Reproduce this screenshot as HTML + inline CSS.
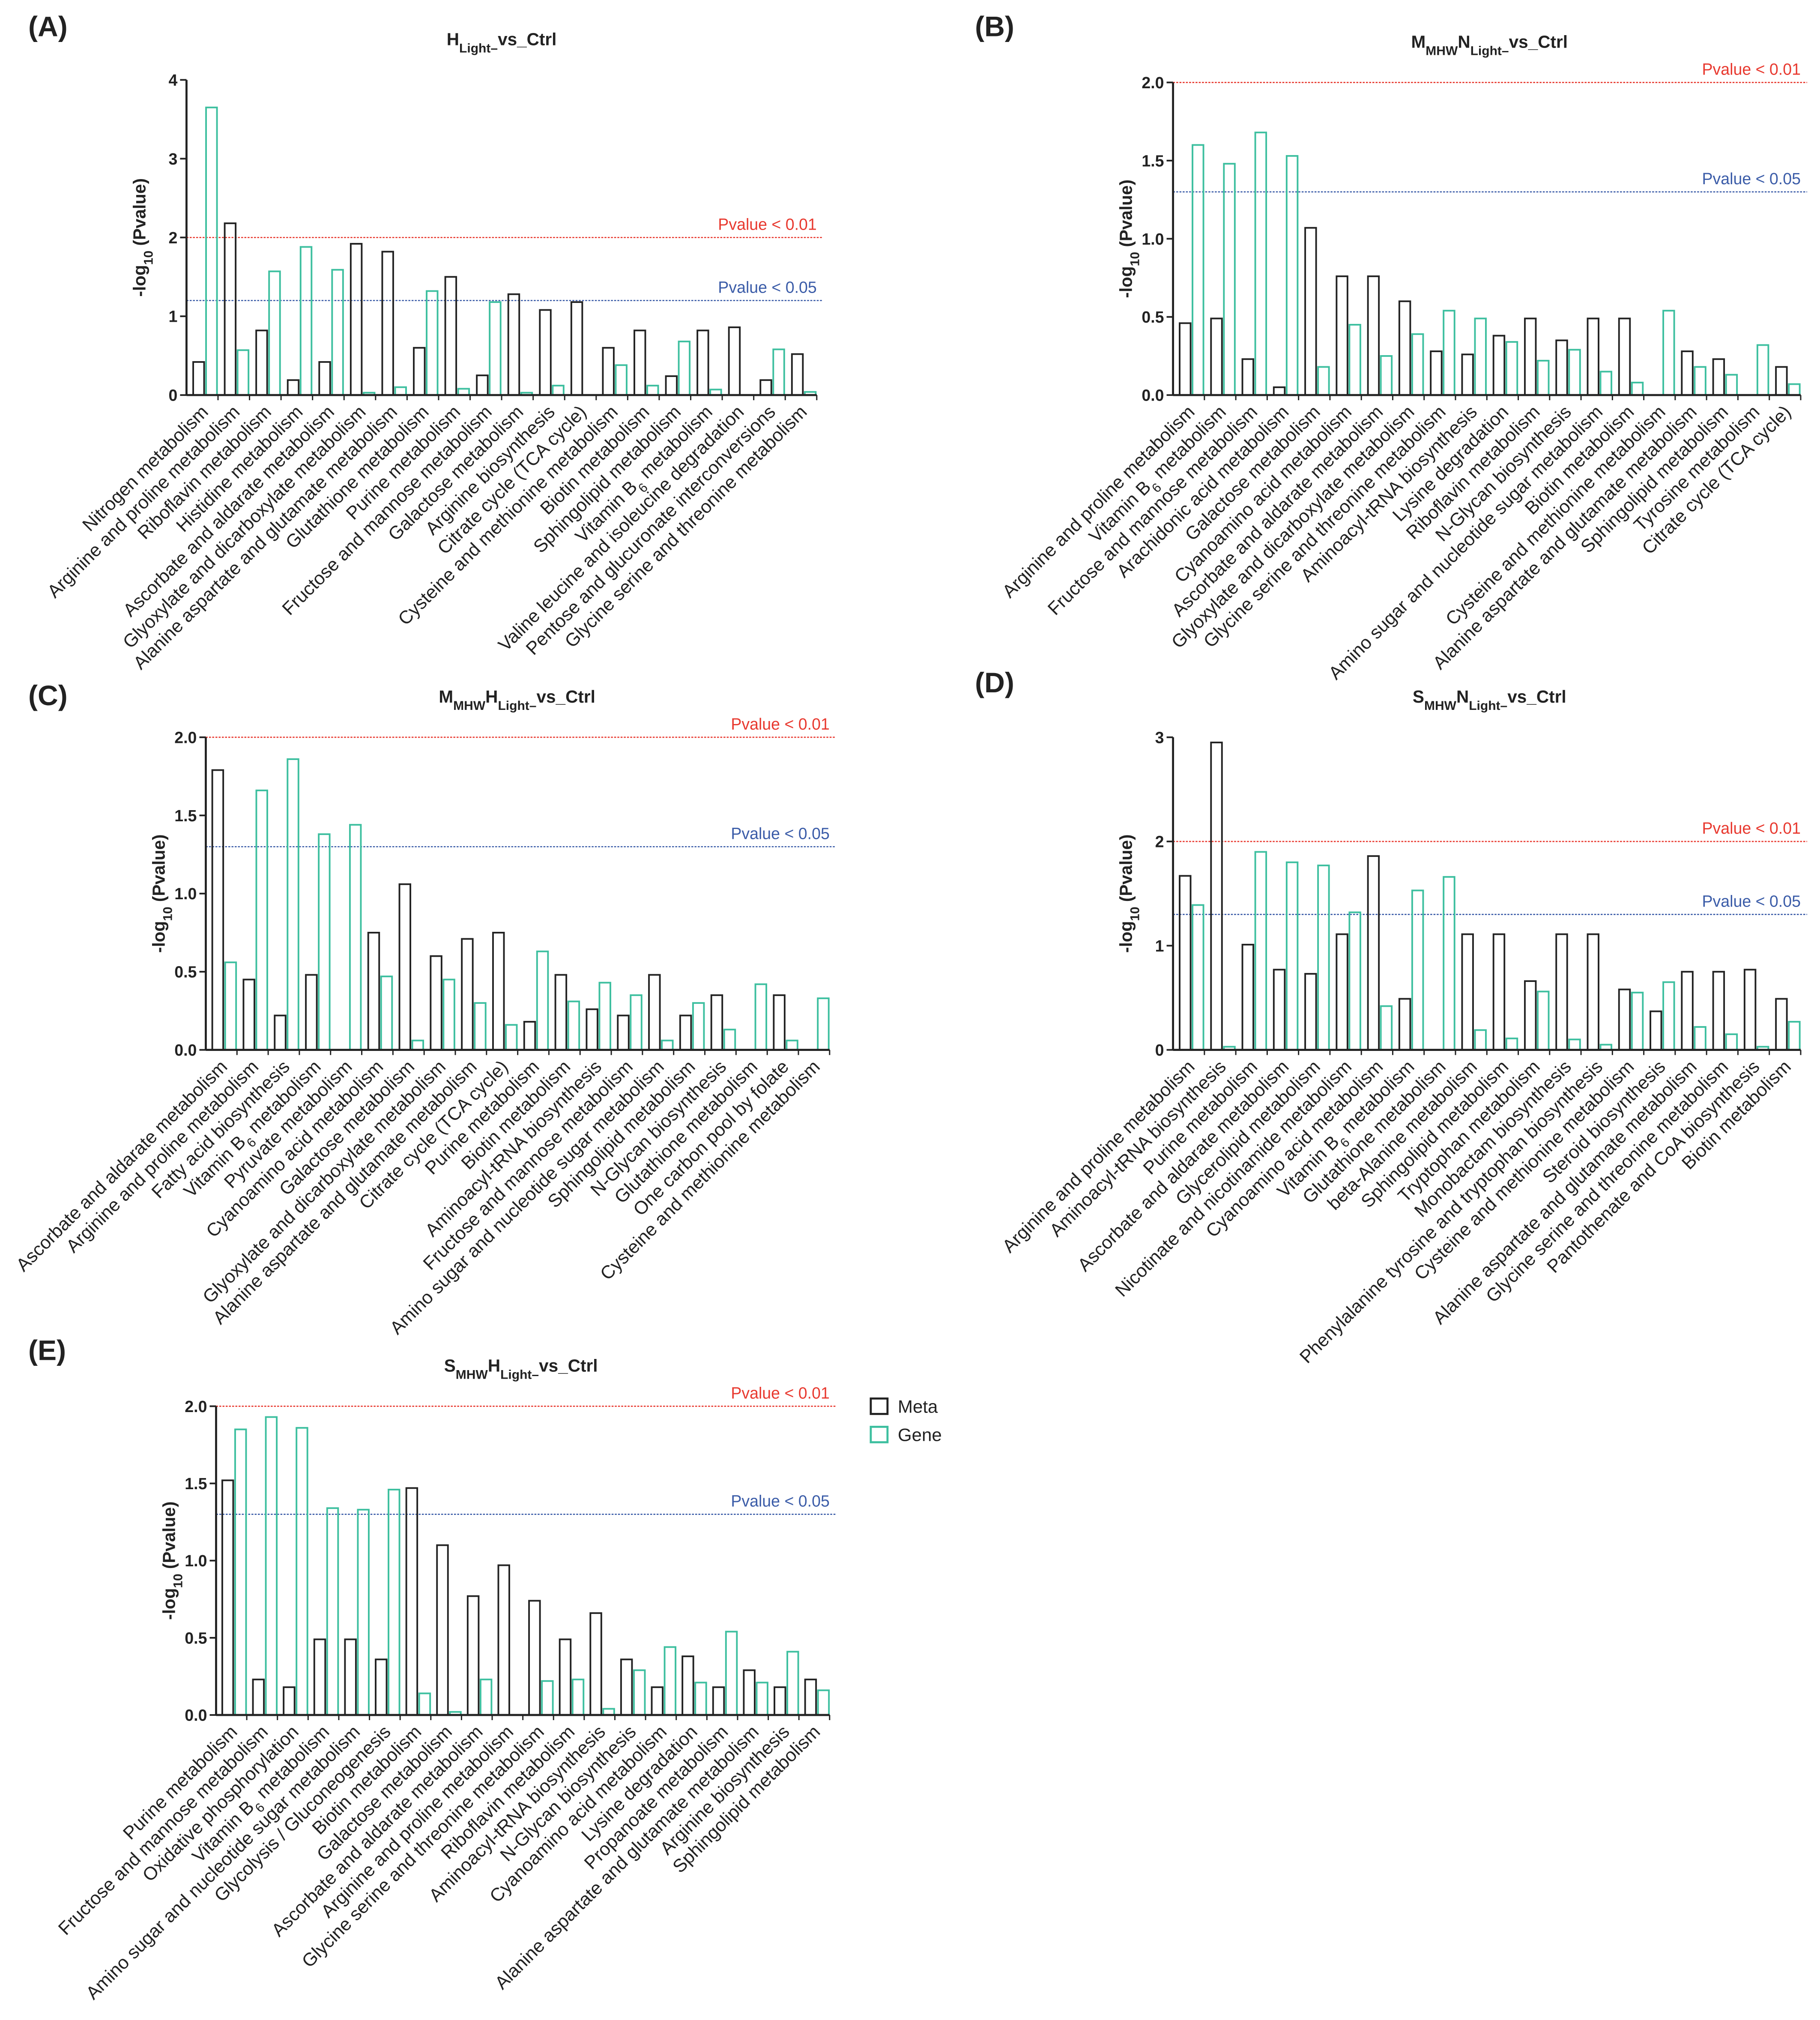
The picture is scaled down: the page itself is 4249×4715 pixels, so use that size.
<!DOCTYPE html>
<html><head><meta charset="utf-8">
<style>
html,body{margin:0;padding:0;background:#fff;}
svg{display:block;}
text{font-family:"Liberation Sans",sans-serif;fill:#222;}
</style></head>
<body>
<svg id="fig" width="4249" height="4715" viewBox="0 0 1415 1570" xmlns="http://www.w3.org/2000/svg"></svg>
<script>
// ---------- Panel A data ----------
const catsA = ["Nitrogen metabolism","Arginine and proline metabolism","Riboflavin metabolism","Histidine metabolism","Ascorbate and aldarate metabolism","Glyoxylate and dicarboxylate metabolism","Alanine aspartate and glutamate metabolism","Glutathione metabolism","Purine metabolism","Fructose and mannose metabolism","Galactose metabolism","Arginine biosynthesis","Citrate cycle (TCA cycle)","Cysteine and methionine metabolism","Biotin metabolism","Sphingolipid metabolism","Vitamin B6 metabolism","Valine leucine and isoleucine degradation","Pentose and glucuronate interconversions","Glycine serine and threonine metabolism"];
const metaA = [0.42,2.18,0.82,0.19,0.42,1.92,1.82,0.6,1.5,0.25,1.28,1.08,1.18,0.6,0.82,0.24,0.82,0.86,0.19,0.52];
const geneA = [3.65,0.57,1.57,1.88,1.59,0.03,0.1,1.32,0.08,1.18,0.03,0.12,0,0.38,0.12,0.68,0.07,0,0.58,0.04];
const ticksA = [0,1,2,3,4];
const thrA = [2,1.2];
// ---------- Panel B data ----------
const catsB = ["Arginine and proline metabolism","Vitamin B6 metabolism","Fructose and mannose metabolism","Arachidonic acid metabolism","Galactose metabolism","Cyanoamino acid metabolism","Ascorbate and aldarate metabolism","Glyoxylate and dicarboxylate metabolism","Glycine serine and threonine metabolism","Aminoacyl-tRNA biosynthesis","Lysine degradation","Riboflavin metabolism","N-Glycan biosynthesis","Amino sugar and nucleotide sugar metabolism","Biotin metabolism","Cysteine and methionine metabolism","Alanine aspartate and glutamate metabolism","Sphingolipid metabolism","Tyrosine metabolism","Citrate cycle (TCA cycle)"];
const metaB = [0.46,0.49,0.23,0.05,1.07,0.76,0.76,0.6,0.28,0.26,0.38,0.49,0.35,0.49,0.49,0,0.28,0.23,0,0.18];
const geneB = [1.6,1.48,1.68,1.53,0.18,0.45,0.25,0.39,0.54,0.49,0.34,0.22,0.29,0.15,0.08,0.54,0.18,0.13,0.32,0.07];
const ticksB = [0,0.5,1.0,1.5,2.0];
const thrB = [2,1.3];
// ---------- Panel C data ----------
const catsC = ["Ascorbate and aldarate metabolism","Arginine and proline metabolism","Fatty acid biosynthesis","Vitamin B6 metabolism","Pyruvate metabolism","Cyanoamino acid metabolism","Galactose metabolism","Glyoxylate and dicarboxylate metabolism","Alanine aspartate and glutamate metabolism","Citrate cycle (TCA cycle)","Purine metabolism","Biotin metabolism","Aminoacyl-tRNA biosynthesis","Fructose and mannose metabolism","Amino sugar and nucleotide sugar metabolism","Sphingolipid metabolism","N-Glycan biosynthesis","Glutathione metabolism","One carbon pool by folate","Cysteine and methionine metabolism"];
const metaC = [1.79,0.45,0.22,0.48,0,0.75,1.06,0.6,0.71,0.75,0.18,0.48,0.26,0.22,0.48,0.22,0.35,0,0.35,0];
const geneC = [0.56,1.66,1.86,1.38,1.44,0.47,0.06,0.45,0.3,0.16,0.63,0.31,0.43,0.35,0.06,0.3,0.13,0.42,0.06,0.33];
const ticksC = [0,0.5,1.0,1.5,2.0];
const thrC = [2,1.3];
// ---------- Panel D data ----------
const catsD = ["Arginine and proline metabolism","Aminoacyl-tRNA biosynthesis","Purine metabolism","Ascorbate and aldarate metabolism","Glycerolipid metabolism","Nicotinate and nicotinamide metabolism","Cyanoamino acid metabolism","Vitamin B6 metabolism","Glutathione metabolism","beta-Alanine metabolism","Sphingolipid metabolism","Tryptophan metabolism","Monobactam biosynthesis","Phenylalanine tyrosine and tryptophan biosynthesis","Cysteine and methionine metabolism","Steroid biosynthesis","Alanine aspartate and glutamate metabolism","Glycine serine and threonine metabolism","Pantothenate and CoA biosynthesis","Biotin metabolism"];
const metaD = [1.67,2.95,1.01,0.77,0.73,1.11,1.86,0.49,0,1.11,1.11,0.66,1.11,1.11,0.58,0.37,0.75,0.75,0.77,0.49];
const geneD = [1.39,0.03,1.9,1.8,1.77,1.32,0.42,1.53,1.66,0.19,0.11,0.56,0.1,0.05,0.55,0.65,0.22,0.15,0.03,0.27];
const ticksD = [0,1,2,3];
const thrD = [2,1.3];
// ---------- Panel E data ----------
const catsE = ["Purine metabolism","Fructose and mannose metabolism","Oxidative phosphorylation","Vitamin B6 metabolism","Amino sugar and nucleotide sugar metabolism","Glycolysis / Gluconeogenesis","Biotin metabolism","Galactose metabolism","Ascorbate and aldarate metabolism","Arginine and proline metabolism","Glycine serine and threonine metabolism","Riboflavin metabolism","Aminoacyl-tRNA biosynthesis","N-Glycan biosynthesis","Cyanoamino acid metabolism","Lysine degradation","Propanoate metabolism","Alanine aspartate and glutamate metabolism","Arginine biosynthesis","Sphingolipid metabolism"];
const metaE = [1.52,0.23,0.18,0.49,0.49,0.36,1.47,1.1,0.77,0.97,0.74,0.49,0.66,0.36,0.18,0.38,0.18,0.29,0.18,0.23];
const geneE = [1.85,1.93,1.86,1.34,1.33,1.46,0.14,0.02,0.23,0,0.22,0.23,0.04,0.29,0.44,0.21,0.54,0.21,0.41,0.16];
const ticksE = [0,0.5,1.0,1.5,2.0];
const thrE = [2,1.3];

const NS = "http://www.w3.org/2000/svg";
const svg = document.getElementById('fig');
function mk(tag, attrs, parent){
  const e = document.createElementNS(NS, tag);
  for (const k in attrs) e.setAttribute(k, attrs[k]);
  (parent||svg).appendChild(e);
  return e;
}
const META = "#222", GENE = "#3dbf9f";

function panel(id, letter, lx, ly, titleParts, tx, ty, x0, x1, y0, yTop, ymax, ticks, dec, thr, cats, meta, gene){
  const g = mk('g', {});
  
  
  const L = mk('text', {x:lx, y:ly, 'font-size':22, 'font-weight':'bold'}, g);
  L.textContent = letter;
  
  
  const T = mk('text', {x:tx, y:ty, 'font-size':13.5, 'font-weight':'bold', 'text-anchor':'middle'}, g);
  
  
  titleParts.forEach(p => {
    const s = mk('tspan', {}, T);
    if (p[1] === 'sub') { s.setAttribute('font-size', 10); s.setAttribute('baseline-shift', 'sub'); }
    s.textContent = p[0];
  });
  const ys = v => y0 - (v / ymax) * (y0 - yTop);
  const n = cats.length;
  const band = (x1 - x0) / n;
  const cx = i => x0 + band * (i + 0.6);
  const tl = [['Pvalue < 0.01', '#e8392f'], ['Pvalue < 0.05', '#3b5ca8']];
  thr.forEach((v, k) => {
    const ln = mk('line', {x1:x0, x2:x1+5, y1:ys(v), y2:ys(v), stroke:tl[k][1], 'stroke-width':0.9, 'stroke-dasharray':'1.5,1'}, g);
    
    
    const tt = mk('text', {x:x1, y:ys(v)-6, 'font-size':12.5, 'text-anchor':'end', style:'fill:'+tl[k][1]}, g);
    tt.textContent = tl[k][0];
    
    
  });
  for (let i = 0; i < n; i++) {
    const c = cx(i);
    const vm = meta[i], vg = gene[i];
    if (vm > 0) {
      const r = mk('rect', {x:c-9.5, y:ys(vm), width:8.5, height:y0-ys(vm), fill:'none', stroke:META, 'stroke-width':1.3}, g);
      
      
    }
    if (vg > 0) {
      const r = mk('rect', {x:c+0.5, y:ys(vg), width:8.5, height:y0-ys(vg), fill:'none', stroke:GENE, 'stroke-width':1.3}, g);
      
      
    }
    const ax0 = c+3, ay0 = y0+14;
    const lb = mk('text', {x:ax0, y:ay0, 'font-size':14.3, 'text-anchor':'end', transform:'rotate(-45 '+ax0+' '+ay0+')'}, g);
    
    
    const m = cats[i].match(/^(.*Vitamin B)6(.*)$/);
    if (m) {
      lb.appendChild(document.createTextNode(m[1]));
      const s = mk('tspan', {'font-size':10, 'baseline-shift':'sub'}, lb); s.textContent = '6';
      const s2 = mk('tspan', {'baseline-shift':'0'}, lb); s2.textContent = m[2];
    } else lb.textContent = cats[i];
  }
  const ya = mk('line', {x1:x0, x2:x0, y1:yTop, y2:y0, stroke:'#222', 'stroke-width':1.6}, g);
   
  const xa = mk('line', {x1:x0, x2:x1, y1:y0, y2:y0, stroke:'#222', 'stroke-width':1.6}, g);
   
  for (let i = 0; i < n; i++) {
    const tk = mk('line', {x1:x0+band*(i+1), x2:x0+band*(i+1), y1:y0, y2:y0+4, stroke:'#222', 'stroke-width':1}, g);
     
  }
  ticks.forEach(v => {
    const tk = mk('line', {x1:x0-5, x2:x0, y1:ys(v), y2:ys(v), stroke:'#222', 'stroke-width':1.3}, g);
     
    const t = mk('text', {x:x0-7, y:ys(v)+4.5, 'font-size':12.5, 'font-weight':'bold', 'text-anchor':'end'}, g);
    t.textContent = v.toFixed(dec);
     
  });
  const ax = x0 - 32, ay = (y0 + yTop) / 2;
  const yt = mk('text', {x:ax, y:ay, 'font-size':13.5, 'font-weight':'bold', 'text-anchor':'middle', transform:'rotate(-90 '+ax+' '+ay+')'}, g);
   
  yt.appendChild(document.createTextNode('-log'));
  const s = mk('tspan', {'font-size':10, 'baseline-shift':'sub'}, yt); s.textContent = '10';
  const s2 = mk('tspan', {'baseline-shift':'0'}, yt); s2.textContent = ' (Pvalue)';
}

panel('a','(A)',22,28,[['H'],['Light–','sub'],['vs_Ctrl']],390,35,145,635,307,62,4,ticksA,0,thrA,catsA,metaA,geneA);
panel('b','(B)',758,28,[['M'],['MHW','sub'],['N'],['Light–','sub'],['vs_Ctrl']],1158,37,912,1400,307,64,2,ticksB,1,thrB,catsB,metaB,geneB);
panel('c','(C)',22,548,[['M'],['MHW','sub'],['H'],['Light–','sub'],['vs_Ctrl']],402,546,160,645,816,573,2,ticksC,1,thrC,catsC,metaC,geneC);
panel('d','(D)',758,538,[['S'],['MHW','sub'],['N'],['Light–','sub'],['vs_Ctrl']],1158,546,912,1400,816,573,3,ticksD,0,thrD,catsD,metaD,geneD);
panel('e','(E)',22,1057,[['S'],['MHW','sub'],['H'],['Light–','sub'],['vs_Ctrl']],405,1066,168,645,1333,1093,2,ticksE,1,thrE,catsE,metaE,geneE);

const lg = mk('g', {});
 
[['Meta', META, 1093], ['Gene', GENE, 1115]].forEach(d => {
  const r = mk('rect', {x:677, y:d[2]-6, width:13, height:12, fill:'none', stroke:d[1], 'stroke-width':1.6}, lg);
   
  const t = mk('text', {x:698, y:d[2]+5, 'font-size':14}, lg);
  t.textContent = d[0];
   
});
</script>
</body></html>
